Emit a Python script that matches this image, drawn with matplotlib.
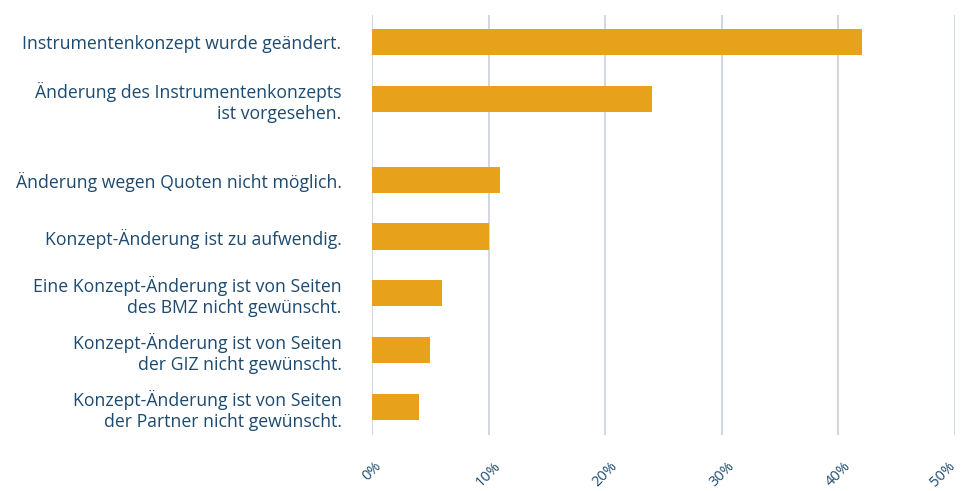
import matplotlib.pyplot as plt
import matplotlib.transforms as mtransforms
import numpy as np

categories = [
    "Instrumentenkonzept wurde geändert.",
    "Änderung des Instrumentenkonzepts\nist vorgesehen.",
    "Änderung wegen Quoten nicht möglich.",
    "Konzept-Änderung ist zu aufwendig.",
    "Eine Konzept-Änderung ist von Seiten\ndes BMZ nicht gewünscht.",
    "Konzept-Änderung ist von Seiten\nder GIZ nicht gewünscht.",
    "Konzept-Änderung ist von Seiten\nder Partner nicht gewünscht.",
]
values = [42, 24, 11, 10, 6, 5, 4]
tick_values = [0, 10, 20, 30, 40, 50]
tick_labels = ["0%", "10%", "20%", "30%", "40%", "50%"]

text_color = "#1d4a70"
bar_color = "#e8a11a"
grid_color = "#c9d1db"

plt.rcParams['font.family'] = ['Open Sans', 'DejaVu Sans']

fig = plt.figure(figsize=(9.62, 4.91), dpi=100)
ax = fig.add_axes([0.3867, 0.114, 0.606, 0.855])

# extra gap after the second bar
pos = np.arange(len(values)) + np.where(np.arange(len(values)) >= 2, 0.42, 0.0)

ax.barh(pos, values, height=0.46, color=bar_color, zorder=3)

ax.set_xlim(0, 50)
ax.set_ylim(pos[-1] + 0.49, -0.47)

ax.set_yticks(pos)
ax.set_yticklabels(categories, fontsize=12.7, color=text_color, linespacing=1.22)
ax.tick_params(axis='y', length=0, pad=22)

ax.set_xticks(tick_values)
ax.set_xticklabels(tick_labels, fontsize=10.5, color=text_color, rotation=45,
                   ha='center', va='top')
ax.tick_params(axis='x', length=0, pad=17)

# nudge the last label so it stays inside the figure
last = ax.get_xticklabels()[-1]
last.set_transform(last.get_transform() +
                   mtransforms.ScaledTranslation(-9 / 72, 0, fig.dpi_scale_trans))

ax.grid(axis='x', color=grid_color, linewidth=1.2, zorder=0)
for s in ax.spines.values():
    s.set_visible(False)

fig.savefig("out.png", dpi=100)
